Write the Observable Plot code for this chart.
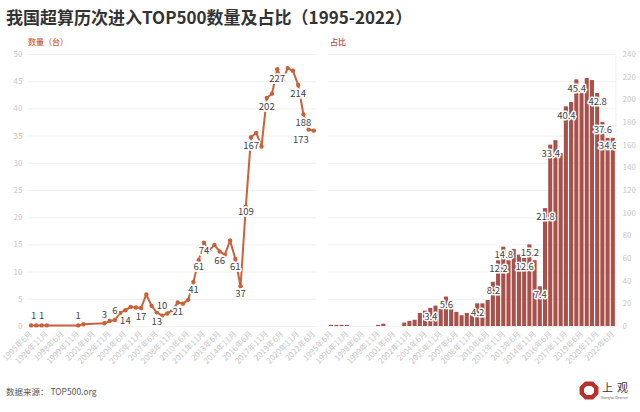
<!DOCTYPE html>
<html lang="zh">
<head>
<meta charset="utf-8">
<script src="https://cdn.jsdelivr.net/npm/d3@7"></script>
<script src="https://cdn.jsdelivr.net/npm/@observablehq/plot@0.6"></script>
<style>
html,body{margin:0;padding:0;background:#fff;}
body{width:640px;height:412px;position:relative;overflow:hidden;font-family:"Noto Sans CJK SC","Noto Sans",sans-serif;}
.abs{position:absolute;white-space:nowrap;line-height:1;}
svg{background:transparent!important;overflow:visible;}
</style>
</head>
<body>
<div class="abs" style="left:6px;top:8px;font-size:17px;font-weight:700;color:#333;">我国超算历次进入TOP500数量及占比（1995-2022）</div>
<div class="abs" style="left:28px;top:38px;font-size:8px;font-weight:500;color:#c9623b;">数量（台）</div>
<div class="abs" style="left:330px;top:38px;font-size:8px;font-weight:500;color:#a8504a;">占比</div>
<div class="abs" style="left:6px;top:387px;font-size:8.5px;color:#555;">数据来源： TOP500.org</div>
<div id="left" class="abs" style="left:0;top:30px;"></div>
<div id="right" class="abs" style="left:280px;top:30px;"></div>
<svg class="abs" style="left:578px;top:378px;" width="60" height="24" viewBox="0 0 60 24">
  <polygon points="7,3.5 15,3.5 20.5,9 20.5,16 15,21.5 7,21.5 1.5,16 1.5,9" fill="#b5322c"/>
  <polygon points="8.6,8 13.4,8 16,10.4 16,14.6 13.4,17 8.6,17 6,14.6 6,10.4" fill="#fff"/>
  <text x="24" y="14" font-size="11" letter-spacing="4" fill="#333" font-family="Noto Sans CJK SC">上观</text>
  <text x="23" y="21" font-size="3" fill="#666" font-family="Noto Sans">Shanghai Observer</text>
</svg>
<script>
const categories = [
  "1995年6月","1995年11月","1996年6月","1996年11月","1997年6月","1997年11月","1998年6月","1998年11月",
  "1999年6月","1999年11月","2000年6月","2000年11月","2001年6月","2001年11月","2002年6月","2002年11月",
  "2003年6月","2003年11月","2004年6月","2004年11月","2005年6月","2005年11月","2006年6月","2006年11月",
  "2007年6月","2007年11月","2008年6月","2008年11月","2009年6月","2009年11月","2010年6月","2010年11月",
  "2011年6月","2011年11月","2012年6月","2012年11月","2013年6月","2013年11月","2014年6月","2014年11月",
  "2015年6月","2015年11月","2016年6月","2016年11月","2017年6月","2017年11月","2018年6月","2018年11月",
  "2019年6月","2019年11月","2020年6月","2020年11月","2021年6月","2021年11月","2022年6月"
];
const tickLabels = ["1995年6月","1996年11月","1998年6月","1999年11月","2001年6月","2002年11月","2004年6月","2005年11月","2007年6月","2008年11月","2010年6月","2011年11月","2013年6月","2014年11月","2016年6月","2017年11月","2019年6月","2020年11月","2022年6月"];
const shareValues = [
  0.2,0.2,0.2,0.2,null,null,null,null,null,0.2,
  0.4,null,null,null,0.6,1.0,1.2,2.5,3.0,3.6,
  3.5,3.4,5.9,3.8,2.6,2.0,2.4,3.0,4.4,4.2,
  4.9,8.2,12.2,15.4,14.0,15.0,13.8,13.2,15.8,12.4,
  7.4,22.0,34.8,35.6,33.1,42.0,42.8,47.3,45.2,47.5,
  47.0,44.4,39.0,36.2,36.0
];
const countValues = [
  1,1,1,1,0,0,0,0,0,1,
  2,0,0,0,3,4.5,5.5,11.5,13.5,16,
  18,15,26,15,12.5,9.5,11.5,9.5,20,20,
  23,39,58,70,58,68,63,60,72,58,
  35,104,160,164,152.6,193.8,197.6,217.6,205.6,218.8,
  217,205.6,180,166,166
];
const countLabels = ["1","1","1","3","6","14","17","13","10","21","41","61","74","66","61","37","109","167","202","227","214","188","173"];
const countLabelIndex = [0.5,2,9,14,16,18,21,24,25,28,31,32,33,36,39,40,41,42,45,47,51,52,51.5];
const countLabelLevel = [1.85,1.85,1.85,2.2,2.9,1.1,1.8,0.9,3.8,2.65,6.8,11,13.8,12,11,6,21.05,33.1,40.3,45.5,42.8,37.4,34.3];
const shareLabels = ["3.4","5.6","4.2","8.2","12.2","14.8","12.6","15.2","7.4","21.8","33.4","40.4","45.4","42.8","37.6","34.6"];
const shareLabelIndex = [19,22,28,31,32,33,37,38,40,41,42,45,47,51,52,53];
const shareLabelLevel = [8.2,19,12,31.8,51,63,52.6,65,28,97,152.6,186,210,198,173,159];
const leftTicks = [0,5,10,15,20,25,30,35,40,45,50];
const rightTicks = [0,20,40,60,80,100,120,140,160,180,200,220,240];
const rightGrid = [0,24,48,72,96,120,144,168,192,216,240];

const font = '"Noto Sans CJK SC","Noto Sans",sans-serif';
const linePts = shareValues.map((v,i)=>({i,v})).filter(d=>d.v!==null);
const bars = categories.map((c,i)=>({c,v:countValues[i]}));
const lineLab = countLabels.map((t,k)=>({t,i:countLabelIndex[k],y:countLabelLevel[k]}));
const barLab = shareLabels.map((t,k)=>({t,c:categories[shareLabelIndex[k]],y:shareLabelLevel[k]}));

const leftPlot = Plot.plot({
  width:320,height:346,marginLeft:28,marginRight:4,marginTop:24,marginBottom:50,
  style:{fontFamily:font,background:"transparent"},
  x:{type:"linear",domain:[-0.5,54.5],axis:null},
  y:{domain:[0,50],axis:null},
  marks:[
    Plot.ruleY(leftTicks,{stroke:"#f1f1f1",strokeWidth:1}),
    Plot.axisY({ticks:leftTicks,tickSize:0,tickPadding:6,label:null,fontSize:8,fill:"#c8c8c8"}),
    Plot.axisX({ticks:tickLabels.map(t=>categories.indexOf(t)),tickFormat:i=>categories[i],tickRotate:-45,tickSize:0,tickPadding:6,label:null,fontSize:8,fill:"#c8c8c8"}),
    Plot.line(linePts,{x:"i",y:"v",stroke:"#c9623b",strokeWidth:2}),
    Plot.dot(linePts,{x:"i",y:"v",r:2.2,fill:"#c9623b"}),
    Plot.text(lineLab,{x:"i",y:"y",text:"t",fontSize:9.5,fill:"#444",stroke:"#fff",strokeWidth:3.5,paintOrder:"stroke"})
  ]
});
document.getElementById("left").append(leftPlot);

const rightPlot = Plot.plot({
  width:360,height:346,marginLeft:48,marginRight:24,marginTop:24,marginBottom:50,
  style:{fontFamily:font,background:"transparent"},
  x:{type:"band",domain:categories,padding:0.22,align:0.5,round:false,axis:null},
  y:{domain:[0,240],axis:null},
  marks:[
    Plot.ruleY(rightGrid,{stroke:"#f1f1f1",strokeWidth:1}),
    Plot.ruleX([categories[54]],{dx:2.6,stroke:"#f1f1f1",y1:0,y2:240}),
    Plot.axisY({anchor:"right",ticks:rightTicks,tickSize:0,tickPadding:6,label:null,fontSize:8,fill:"#c8c8c8"}),
    Plot.axisX({ticks:tickLabels,tickRotate:-45,tickSize:0,tickPadding:6,label:null,fontSize:8,fill:"#c8c8c8"}),
    Plot.barY(bars,{x:"c",y:"v",fill:"#a8504a"}),
    Plot.text(barLab,{x:"c",y:"y",text:"t",fontSize:9.5,fill:"#444",stroke:"#fff",strokeWidth:3,paintOrder:"stroke",clip:true})
  ]
});
document.getElementById("right").append(rightPlot);
</script>
</body>
</html>
